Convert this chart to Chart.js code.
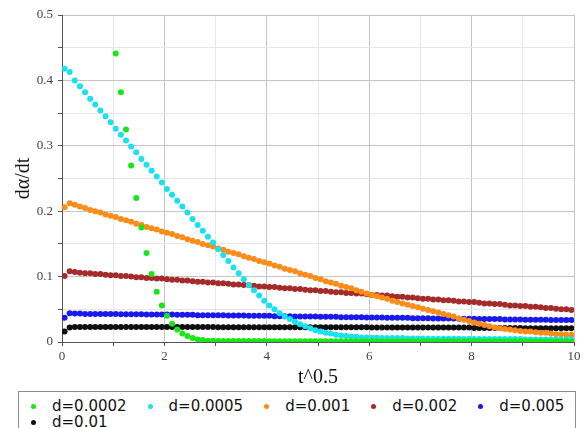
<!DOCTYPE html>
<html>
<head>
<meta charset="utf-8">
<script src="https://cdn.jsdelivr.net/npm/chart.js@4/dist/chart.umd.min.js"></script>
<style>
  html, body { margin: 0; padding: 0; background: #fff; }
  #wrap { position: relative; width: 586px; height: 428px; overflow: hidden; background: #fff; }
  #plot { position: absolute; left: 0; top: 0; width: 586px; height: 390px; }
  #legend {
    position: absolute; left: 18px; top: 391px; width: 544px; height: 60px;
    border: 1px solid #8c8c8c; padding: 6px 0 0 12px;
    font: 15px "DejaVu Sans", sans-serif; color: #111;
  }
  #legend .row { display: flex; height: 16px; align-items: center; white-space: nowrap; }
  #legend .item { display: flex; align-items: center; margin-right: 21px; }
  #legend .dot { width: 5px; height: 5px; border-radius: 50%; margin-right: 16px; }
</style>
</head>
<body>
<div id="wrap">
  <div id="plot"><canvas id="c"></canvas></div>
  <div id="legend"></div>
</div>
<script>
// sample positions along t^0.5
const xs = [
  0.05,0.15,0.25,0.35,0.45,0.55,0.65,0.75,0.85,0.95,
  1.05,1.15,1.25,1.35,1.45,1.55,1.65,1.75,1.85,1.95,
  2.05,2.15,2.25,2.35,2.45,2.55,2.65,2.75,2.85,2.95,
  3.05,3.15,3.25,3.35,3.45,3.55,3.65,3.75,3.85,3.95,
  4.05,4.15,4.25,4.35,4.45,4.55,4.65,4.75,4.85,4.95,
  5.05,5.15,5.25,5.35,5.45,5.55,5.65,5.75,5.85,5.95,
  6.05,6.15,6.25,6.35,6.45,6.55,6.65,6.75,6.85,6.95,
  7.05,7.15,7.25,7.35,7.45,7.55,7.65,7.75,7.85,7.95,
  8.05,8.15,8.25,8.35,8.45,8.55,8.65,8.75,8.85,8.95,
  9.05,9.15,9.25,9.35,9.45,9.55,9.65,9.75,9.85,9.95
];

// dα/dt for each d
const d0002 = [
  null,null,null,null,null,null,null,null,null,null,
  0.441,0.382,0.325,0.270,0.220,0.175,0.136,0.104,0.077,0.056,
  0.040,0.028,0.019,0.013,0.009,0.006,0.004,0.003,0.002,0.002,
  0.0015,0.0015,0.0015,0.0015,0.0015,0.0015,0.0015,0.0015,0.0015,0.0015,
  0.001,0.001,0.001,0.001,0.001,0.001,0.001,0.001,0.001,0.001,
  0.001,0.001,0.001,0.001,0.001,0.001,0.001,0.001,0.001,0.001,
  0.001,0.001,0.001,0.001,0.001,0.001,0.001,0.001,0.001,0.001,
  0.001,0.001,0.001,0.001,0.001,0.001,0.001,0.001,0.001,0.001,
  0.001,0.001,0.001,0.001,0.001,0.001,0.001,0.001,0.001,0.001,
  0.001,0.001,0.001,0.001,0.001,0.001,0.001,0.001,0.001,0.001
];
const d0005 = [
  0.418,0.413,0.400,0.391,0.382,0.372,0.363,0.354,0.345,0.336,
  0.326,0.317,0.308,0.299,0.290,0.280,0.271,0.262,0.253,0.244,
  0.234,0.225,0.216,0.207,0.198,0.188,0.179,0.170,0.161,0.152,
  0.142,0.133,0.124,0.114,0.105,0.096,0.087,0.079,0.071,0.063,
  0.056,0.050,0.044,0.039,0.035,0.031,0.027,0.024,0.021,0.018,
  0.016,0.014,0.013,0.011,0.010,0.009,0.008,0.008,0.007,0.007,
  0.0065,0.0065,0.006,0.006,0.006,0.006,0.006,0.0055,0.0055,0.0055,
  0.0055,0.005,0.005,0.005,0.005,0.005,0.005,0.005,0.0045,0.0045,
  0.0045,0.0045,0.0045,0.0045,0.0045,0.0045,0.0045,0.0045,0.0045,0.0045,
  0.004,0.004,0.004,0.004,0.004,0.004,0.004,0.004,0.004,0.004
];
const d001 = [
  0.206,0.212,0.210,0.207,0.205,0.202,0.200,0.198,0.195,0.193,
  0.191,0.188,0.186,0.184,0.181,0.179,0.176,0.174,0.172,0.169,
  0.167,0.165,0.162,0.160,0.157,0.155,0.153,0.150,0.148,0.146,
  0.143,0.141,0.138,0.136,0.134,0.131,0.129,0.127,0.124,0.122,
  0.120,0.117,0.115,0.112,0.110,0.108,0.105,0.103,0.101,0.098,
  0.096,0.093,0.091,0.089,0.086,0.084,0.082,0.079,0.077,0.074,
  0.072,0.070,0.068,0.066,0.063,0.061,0.059,0.057,0.055,0.053,
  0.051,0.049,0.047,0.045,0.043,0.041,0.039,0.036,0.034,0.032,
  0.030,0.028,0.026,0.024,0.022,0.021,0.020,0.019,0.018,0.017,
  0.016,0.016,0.015,0.014,0.014,0.013,0.012,0.012,0.011,0.011
];
const d002 = [
  0.101,0.108,0.107,0.106,0.105,0.105,0.104,0.104,0.103,0.102,
  0.102,0.101,0.101,0.100,0.099,0.099,0.098,0.098,0.097,0.097,
  0.096,0.095,0.095,0.094,0.094,0.093,0.092,0.092,0.091,0.091,
  0.090,0.090,0.089,0.088,0.088,0.087,0.087,0.086,0.085,0.085,
  0.084,0.084,0.083,0.082,0.082,0.081,0.081,0.080,0.079,0.079,
  0.078,0.078,0.077,0.076,0.076,0.075,0.075,0.074,0.074,0.073,
  0.072,0.072,0.071,0.071,0.070,0.069,0.069,0.068,0.068,0.067,
  0.066,0.066,0.065,0.065,0.064,0.064,0.063,0.062,0.062,0.061,
  0.061,0.060,0.059,0.059,0.058,0.058,0.057,0.056,0.056,0.055,
  0.055,0.054,0.054,0.053,0.052,0.052,0.051,0.050,0.050,0.049
];
const d005 = [
  0.037,0.044,0.0435,0.0435,0.043,0.043,0.043,0.043,0.043,0.043,
  0.043,0.0425,0.0425,0.0425,0.0425,0.0425,0.042,0.042,0.042,0.042,
  0.042,0.042,0.0415,0.0415,0.0415,0.0415,0.041,0.041,0.041,0.041,
  0.041,0.041,0.0405,0.0405,0.0405,0.0405,0.040,0.040,0.040,0.040,
  0.040,0.0395,0.0395,0.0395,0.0395,0.039,0.039,0.039,0.039,0.039,
  0.0385,0.0385,0.0385,0.0385,0.038,0.038,0.038,0.038,0.038,0.0375,
  0.0375,0.0375,0.0375,0.037,0.037,0.037,0.037,0.037,0.0365,0.0365,
  0.0365,0.0365,0.036,0.036,0.036,0.036,0.036,0.0355,0.0355,0.0355,
  0.0355,0.035,0.035,0.035,0.035,0.035,0.0345,0.0345,0.0345,0.0345,
  0.034,0.034,0.034,0.034,0.034,0.0335,0.0335,0.0335,0.0335,0.0335
];
const d01 = [
  0.016,0.022,0.023,0.023,0.023,0.023,0.023,0.023,0.023,0.023,
  0.023,0.023,0.023,0.023,0.023,0.023,0.023,0.023,0.023,0.023,
  0.023,0.023,0.023,0.023,0.023,0.023,0.023,0.023,0.023,0.023,
  0.0225,0.0225,0.0225,0.0225,0.0225,0.0225,0.0225,0.0225,0.0225,0.0225,
  0.0225,0.0225,0.0225,0.0225,0.0225,0.0225,0.0225,0.0225,0.0225,0.0225,
  0.0225,0.0225,0.0225,0.0225,0.0225,0.0225,0.0225,0.0225,0.0225,0.0225,
  0.022,0.022,0.022,0.022,0.022,0.022,0.022,0.022,0.022,0.022,
  0.022,0.022,0.022,0.022,0.022,0.022,0.022,0.022,0.022,0.022,
  0.0215,0.0215,0.0215,0.0215,0.0215,0.0215,0.0215,0.0215,0.0215,0.0215,
  0.021,0.021,0.021,0.021,0.021,0.021,0.021,0.021,0.021,0.021
];

const seriesLabels = ['d=0.0002', 'd=0.0005', 'd=0.001', 'd=0.002', 'd=0.005', 'd=0.01'];
const seriesValues = [d0002, d0005, d001, d002, d005, d01];
const seriesColors = ['rgb(25,230,25)', 'rgb(25,225,240)', 'rgb(250,140,25)',
                      'rgb(165,42,42)', 'rgb(25,25,235)', 'rgb(15,15,15)'];

const xTickLabels = ['0', '2', '4', '6', '8', '10'];
const yTickLabels = ['0', '0.1', '0.2', '0.3', '0.4', '0.5'];

const toPoints = ys => ys.map((y, i) => ({ x: xs[i], y })).filter(p => p.y !== null);

const datasets = seriesValues.map((ys, i) => ({
  label: seriesLabels[i],
  data: toPoints(ys),
  backgroundColor: seriesColors[i],
  borderColor: seriesColors[i],
  pointRadius: 3,
  pointBorderWidth: 0,
  pointHoverRadius: 3,
  showLine: false
}));

const MAJOR_GRID = '#c4c4c4';
const MINOR_GRID = '#e8e8e8';
const AXIS = '#555';

const isMajorY = v => Math.abs(v * 10 - Math.round(v * 10)) < 1e-6;
const isMajorX = v => Math.abs(v / 2 - Math.round(v / 2)) < 1e-6;

const tickFont = { family: '"Liberation Serif", serif', size: 13 };
const titleFont = { family: '"Liberation Serif", serif', size: 20 };

const chart = new Chart(document.getElementById('c'), {
  type: 'scatter',
  data: { datasets },
  options: {
    responsive: true,
    maintainAspectRatio: false,
    animation: false,
    events: [],
    layout: { padding: { top: 15, right: 12, left: 0, bottom: 0 } },
    plugins: { legend: { display: false }, tooltip: { enabled: false } },
    scales: {
      x: {
        type: 'linear', min: 0, max: 10,
        afterFit: s => { s.height = 48; },
        border: { color: AXIS, width: 1 },
        grid: {
          color: c => (c.tick && isMajorX(c.tick.value)) ? MAJOR_GRID : MINOR_GRID,
          tickColor: AXIS, tickLength: 4
        },
        ticks: {
          stepSize: 1, autoSkip: false, maxRotation: 0, padding: 3,
          color: '#444', font: tickFont,
          callback: v => isMajorX(v) ? xTickLabels[Math.round(v / 2)] : ''
        },
        title: { display: true, text: 't^0.5', color: '#111', font: titleFont,
                 padding: { top: 0, bottom: 0 } }
      },
      y: {
        type: 'linear', min: 0, max: 0.5,
        afterFit: s => { s.width = 62; },
        border: { color: AXIS, width: 1 },
        grid: {
          color: c => (c.tick && isMajorY(c.tick.value)) ? MAJOR_GRID : MINOR_GRID,
          tickColor: AXIS, tickLength: 4
        },
        ticks: {
          stepSize: 0.05, autoSkip: false, padding: 5,
          color: '#444', font: tickFont,
          callback: v => isMajorY(v) ? yTickLabels[Math.round(v * 10)] : ''
        },
        title: { display: true, text: 'dα/dt', color: '#111', font: titleFont,
                 padding: { top: 12, bottom: 0 } }
      }
    }
  }
});

// legend box below the plot, built from the chart's datasets
const legendEl = document.getElementById('legend');
const perRow = 5;
let row = null;
chart.data.datasets.forEach((ds, i) => {
  if (i % perRow === 0) {
    row = document.createElement('div');
    row.className = 'row';
    legendEl.appendChild(row);
  }
  const item = document.createElement('div');
  item.className = 'item';
  const dot = document.createElement('span');
  dot.className = 'dot';
  dot.style.background = ds.backgroundColor;
  const txt = document.createElement('span');
  txt.textContent = ds.label;
  item.appendChild(dot);
  item.appendChild(txt);
  row.appendChild(item);
});
</script>
</body>
</html>
